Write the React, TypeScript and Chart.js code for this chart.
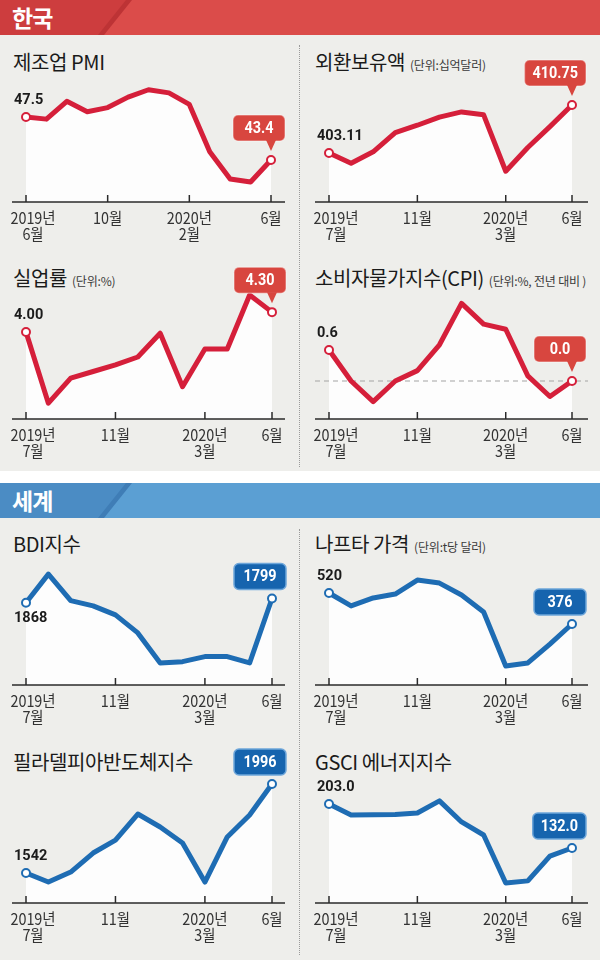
import React, { useEffect, useRef } from "react";
import { Chart, registerables } from "chart.js";

Chart.register(...registerables);

// ---------- data ----------
const monthsFromJun = ["2019-06", "2019-07", "2019-08", "2019-09", "2019-10", "2019-11", "2019-12", "2020-01", "2020-02", "2020-03", "2020-04", "2020-05", "2020-06"];
const monthsFromJul = ["2019-07", "2019-08", "2019-09", "2019-10", "2019-11", "2019-12", "2020-01", "2020-02", "2020-03", "2020-04", "2020-05", "2020-06"];

const pmiValues = [47.5, 47.3, 49.0, 48.0, 48.4, 49.4, 50.1, 49.8, 48.7, 44.2, 41.6, 41.3, 43.4];
const fxReserveValues = [403.11, 401.48, 403.3, 406.37, 407.53, 408.82, 409.65, 409.19, 400.21, 403.98, 407.31, 410.75];
const unemploymentValues = [4.0, 2.92, 3.3, 3.4, 3.5, 3.62, 3.98, 3.17, 3.74, 3.74, 4.56, 4.3];
const cpiValues = [0.6, 0.0, -0.4, 0.0, 0.2, 0.7, 1.5, 1.1, 1.0, 0.1, -0.3, 0.0];
const bdiValues = [1868, 2520, 1915, 1795, 1590, 1180, 495, 525, 640, 640, 495, 1965];
const naphthaValues = [520, 460, 497, 515, 580, 566, 511, 432, 181, 195, 283, 376];
const soxValues = [1542, 1496, 1547, 1644, 1710, 1843, 1777, 1695, 1496, 1726, 1838, 1996];
const gsciEnergyValues = [203.0, 185.3, 185.5, 186.0, 188.5, 208.0, 174.0, 153.0, 75.6, 79.0, 119.0, 132.0];

const pmiEndLabels = ["47.5", "43.4"];
const fxEndLabels = ["403.11", "410.75"];
const unemploymentEndLabels = ["4.00", "4.30"];
const cpiEndLabels = ["0.6", "0.0"];
const bdiEndLabels = ["1868", "1799"];
const naphthaEndLabels = ["520", "376"];
const soxEndLabels = ["1542", "1996"];
const gsciEndLabels = ["203.0", "132.0"];

const tickIndexJun = [0, 4, 8, 12];
const tickTextJun = [["2019년", "6월"], ["10월"], ["2020년", "2월"], ["6월"]];
const tickIndexJul = [0, 4, 8, 11];
const tickTextJul = [["2019년", "7월"], ["11월"], ["2020년", "3월"], ["6월"]];

// ---------- styles / layout ----------
const SIDES: any = {
  left: { canvasX: 0, chartLeft: 12, chartRight: 285, firstPx: 26, lastPx: 272 },
  right: { canvasX: 300, chartLeft: 15, chartRight: 288, firstPx: 29, lastPx: 272 },
};

const THEMES: any = {
  red: { line: "#d51f3a", box: "#d8463f", boxStroke: "rgba(255,255,255,0.35)", pointer: true },
  blue: { line: "#1e6cb3", box: "#1664ae", boxStroke: "#6ea6da", pointer: false },
};

const panels: any[] = [
  { title: "제조업 PMI", unit: "", side: "left", theme: "red", months: monthsFromJun, values: pmiValues, ends: pmiEndLabels, tickIdx: tickIndexJun, tickText: tickTextJun, titleY: 62, canvasTop: 42, canvasH: 203, plotTop: 50, axisY: 202, yMin: 39.4, yMax: 53.89, lastPx: 271 },
  { title: "외환보유액", unit: "(단위:십억달러)", side: "right", theme: "red", months: monthsFromJul, values: fxReserveValues, ends: fxEndLabels, tickIdx: tickIndexJul, tickText: tickTextJul, titleY: 62, canvasTop: 42, canvasH: 203, plotTop: 50, axisY: 202, yMin: 395.31, yMax: 419.51 },
  { title: "실업률", unit: "(단위:%)", side: "left", theme: "red", months: monthsFromJul, values: unemploymentValues, ends: unemploymentEndLabels, tickIdx: tickIndexJul, tickText: tickTextJul, titleY: 278, canvasTop: 255, canvasH: 207, plotTop: 262, axisY: 419, yMin: 2.68, yMax: 5.06 },
  { title: "소비자물가지수(CPI)", unit: "(단위:%, 전년 대비 )", side: "right", theme: "red", months: monthsFromJul, values: cpiValues, ends: cpiEndLabels, tickIdx: tickIndexJul, tickText: tickTextJul, titleY: 278, canvasTop: 255, canvasH: 207, plotTop: 262, axisY: 419, yMin: -0.735, yMax: 2.3, zeroLine: true },
  { title: "BDI지수", unit: "", side: "left", theme: "blue", months: monthsFromJul, values: bdiValues, ends: bdiEndLabels, tickIdx: tickIndexJul, tickText: tickTextJul, titleY: 544, canvasTop: 553, canvasH: 187, plotTop: 560, axisY: 685, yMin: -7, yMax: 2841, firstBelow: true },
  { title: "나프타 가격", unit: "(단위:t당 달러)", side: "right", theme: "blue", months: monthsFromJul, values: naphthaValues, ends: naphthaEndLabels, tickIdx: tickIndexJul, tickText: tickTextJul, titleY: 544, canvasTop: 553, canvasH: 187, plotTop: 560, axisY: 685, yMin: 92.7, yMax: 673.3 },
  { title: "필라델피아반도체지수", unit: "", side: "left", theme: "blue", months: monthsFromJul, values: soxValues, ends: soxEndLabels, tickIdx: tickIndexJul, tickText: tickTextJul, titleY: 762, canvasTop: 742, canvasH: 218, plotTop: 748, axisY: 903, yMin: 1389, yMax: 2180 },
  { title: "GSCI 에너지지수", unit: "", side: "right", theme: "blue", months: monthsFromJul, values: gsciEnergyValues, ends: gsciEndLabels, tickIdx: tickIndexJul, tickText: tickTextJul, titleY: 762, canvasTop: 742, canvasH: 218, plotTop: 748, axisY: 903, yMin: 43.3, yMax: 293.3 },
];

const KR = '"Noto Sans CJK KR", "Noto Sans", sans-serif';

function drawScaledText(ctx: CanvasRenderingContext2D, t: string, x: number, y: number, sx: number) {
  ctx.save();
  ctx.translate(x, y);
  ctx.scale(sx, 1);
  ctx.fillText(t, 0, 0);
  ctx.restore();
}

function PanelChart({ cfg }: { cfg: any }) {
  const ref = useRef<HTMLCanvasElement>(null);
  const L = SIDES[cfg.side];

  useEffect(() => {
    const canvas = ref.current!;
    const theme = THEMES[cfg.theme];
    const n = cfg.values.length;
    const first = cfg.firstPx ?? L.firstPx;
    const last = cfg.lastPx ?? L.lastPx;
    const k = (last - first) / (n - 1);
    const xMin = -(first - L.chartLeft) / k;
    const xMax = n - 1 + (L.chartRight - last) / k;

    const decor = {
      id: "decor",
      beforeDatasetsDraw(chart: any) {
        if (!cfg.zeroLine) return;
        const { ctx, chartArea, scales } = chart;
        const y0 = scales.y.getPixelForValue(0);
        ctx.save();
        ctx.setLineDash([5, 4]);
        ctx.strokeStyle = "#a3a3a3";
        ctx.lineWidth = 1.2;
        ctx.beginPath();
        ctx.moveTo(chartArea.left, y0);
        ctx.lineTo(chartArea.right, y0);
        ctx.stroke();
        ctx.restore();
      },
      afterDatasetsDraw(chart: any) {
        const { ctx, chartArea, scales } = chart;
        const xs = scales.x;
        const bottom = chartArea.bottom;
        ctx.save();
        // axis line
        ctx.strokeStyle = "#2a2a2a";
        ctx.lineWidth = 1.5;
        ctx.beginPath();
        ctx.moveTo(chartArea.left, bottom);
        ctx.lineTo(chartArea.right, bottom);
        ctx.stroke();
        // ticks + labels
        ctx.fillStyle = "#333";
        ctx.font = `400 16px ${KR}`;
        ctx.textAlign = "center";
        ctx.textBaseline = "middle";
        cfg.tickIdx.forEach((ti: number, j: number) => {
          const px = xs.getPixelForValue(ti);
          ctx.beginPath();
          ctx.moveTo(px, bottom - 7);
          ctx.lineTo(px, bottom);
          ctx.stroke();
          const cx = px + (j === 0 ? 7 : 0);
          cfg.tickText[j].forEach((t: string, li: number) => {
            drawScaledText(ctx, t, cx, bottom + 16 + li * 16, 0.9);
          });
        });
        // value labels
        const meta = chart.getDatasetMeta(0);
        const p0 = meta.data[0];
        const pl = meta.data[n - 1];
        ctx.font = `bold 15px Roboto, "Liberation Sans", sans-serif`;
        ctx.fillStyle = "#1b1b1b";
        ctx.textAlign = "left";
        const ly = cfg.firstBelow ? p0.y + 16 : p0.y - 17;
        drawScaledText(ctx, cfg.ends[0], p0.x - 12, ly, 0.97);
        // callout
        ctx.font = `bold 16px Roboto, "Liberation Sans", sans-serif`;
        const sx = 0.9;
        const tw = ctx.measureText(cfg.ends[1]).width * sx;
        const w = Math.max(52, tw + 16);
        const h = 26;
        const right = pl.x + 14;
        const left = right - w;
        const bBottom = theme.pointer ? pl.y - 19 : pl.y - 9;
        const top = bBottom - h;
        ctx.fillStyle = theme.box;
        ctx.beginPath();
        ctx.roundRect(left, top, w, h, 5);
        ctx.fill();
        ctx.strokeStyle = theme.boxStroke;
        ctx.lineWidth = 1.5;
        ctx.stroke();
        if (theme.pointer) {
          ctx.fillStyle = theme.box;
          ctx.beginPath();
          ctx.moveTo(pl.x - 5, bBottom - 1);
          ctx.lineTo(pl.x + 5, bBottom - 1);
          ctx.lineTo(pl.x, pl.y - 9);
          ctx.closePath();
          ctx.fill();
        }
        ctx.fillStyle = "#ffffff";
        ctx.textAlign = "center";
        drawScaledText(ctx, cfg.ends[1], left + w / 2, top + h / 2 + 1, sx);
        ctx.restore();
      },
    };

    const chart = new Chart(canvas, {
      type: "line",
      data: {
        labels: cfg.months,
        datasets: [
          {
            data: cfg.values.map((v: number, i: number) => ({ x: i, y: v })),
            borderColor: theme.line,
            borderWidth: 5,
            borderJoinStyle: "round",
            borderCapStyle: "round",
            tension: 0,
            fill: "start",
            backgroundColor: "#fdfdfd",
            pointRadius: (c: any) => (c.dataIndex === 0 || c.dataIndex === n - 1 ? 4 : 0),
            pointHoverRadius: 0,
            pointBackgroundColor: "#ffffff",
            pointBorderColor: theme.line,
            pointBorderWidth: 2,
          },
        ],
      },
      options: {
        responsive: false,
        animation: false,
        devicePixelRatio: 1,
        events: [],
        layout: {
          padding: {
            left: L.chartLeft,
            right: 300 - L.chartRight,
            top: cfg.plotTop - cfg.canvasTop,
            bottom: cfg.canvasTop + cfg.canvasH - cfg.axisY,
          },
        },
        scales: {
          x: { type: "linear", display: false, min: xMin, max: xMax },
          y: { display: false, min: cfg.yMin, max: cfg.yMax },
        },
        plugins: {
          legend: { display: false },
          tooltip: { enabled: false },
          filler: { drawTime: "beforeDatasetsDraw" },
        },
      } as any,
      plugins: [decor],
    } as any);
    return () => chart.destroy();
  }, [cfg]);

  return (
    <canvas
      ref={ref}
      width={300}
      height={cfg.canvasH}
      style={{ position: "absolute", left: L.canvasX, top: cfg.canvasTop, width: 300, height: cfg.canvasH }}
    />
  );
}

function Band({ top, label, base, dark, stripe }: any) {
  return (
    <>
      <div style={{ position: "absolute", left: 0, top, width: 600, height: 35, background: base }} />
      <div style={{ position: "absolute", left: 0, top, width: 600, height: 35, background: dark, clipPath: "polygon(0 0, 131px 0, 103px 100%, 0 100%)" }} />
      <div style={{ position: "absolute", left: 0, top, width: 600, height: 35, background: stripe, clipPath: "polygon(126px 0, 132px 0, 104px 100%, 98px 100%)" }} />
      <div style={{ position: "absolute", left: 12, top, height: 35, lineHeight: "35px", color: "#fff", fontWeight: 700, fontSize: 23, fontFamily: KR, letterSpacing: -1 }}>{label}</div>
    </>
  );
}

export default function App() {
  useEffect(() => {
    document.body.style.margin = "0";
  }, []);
  return (
    <div style={{ position: "absolute", left: 0, top: 0, width: 600, height: 960, background: "#eeeeeb", overflow: "hidden", fontFamily: KR }}>
      <Band top={0} label="한국" base="#db4c4a" dark="#cd3d3e" stripe="#bd3335" />
      <div style={{ position: "absolute", left: 0, top: 471, width: 600, height: 12, background: "#ffffff" }} />
      <Band top={483} label="세계" base="#5b9fd3" dark="#4b8cc4" stripe="#3f7db6" />
      <div style={{ position: "absolute", left: 299, top: 45, height: 422, borderLeft: "1px dotted #9a9a9a" }} />
      <div style={{ position: "absolute", left: 299, top: 529, height: 426, borderLeft: "1px dotted #9a9a9a" }} />
      {panels.map((p, i) => (
        <div
          key={"t" + i}
          style={{
            position: "absolute",
            left: p.side === "left" ? 13 : 315,
            top: p.titleY - 13,
            height: 26,
            lineHeight: "26px",
            whiteSpace: "nowrap",
            color: "#1a1a1a",
            fontSize: 20,
            fontWeight: 400,
            letterSpacing: -0.4,
          }}
        >
          {p.title}
          {p.unit ? (
            <span style={{ fontSize: 12, color: "#3a3a3a", marginLeft: 5, letterSpacing: -0.2, verticalAlign: "middle" }}>{p.unit}</span>
          ) : null}
        </div>
      ))}
      {panels.map((p, i) => (
        <PanelChart key={"c" + i} cfg={p} />
      ))}
    </div>
  );
}
